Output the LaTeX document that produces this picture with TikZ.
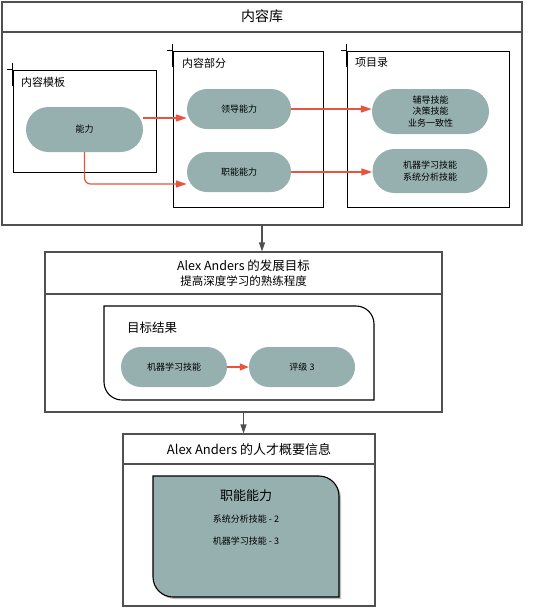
\documentclass[tikz,border=0pt]{standalone}
\usepackage{fontspec}
\setmainfont{Noto Sans CJK SC}
\usetikzlibrary{arrows.meta}
\definecolor{pillfill}{RGB}{149,176,175}
\definecolor{redarr}{RGB}{232,85,63}
\definecolor{boxline}{RGB}{80,80,80}
\begin{document}
\begin{tikzpicture}[x=1pt,y=-1pt,
  bigbox/.style={draw=boxline, line width=1.1pt, inner sep=0pt, anchor=center},
  framebox/.style={draw=black, line width=1pt, inner sep=0pt, anchor=center},
  pill/.style={fill=pillfill, draw=none, rounded corners=#1, inner sep=0pt, align=center,
     font=\fontsize{9}{11.5}\selectfont},
  redline/.style={draw=redarr, line width=1.2pt, -{Triangle[length=11pt,width=7pt]}},
  grayline/.style={draw=boxline, line width=1.1pt, -{Triangle[length=9pt,width=6pt]}},
  framelabel/.style={anchor=west, inner sep=0pt, font=\fontsize{11}{13}\selectfont},
  tick/.style={draw=black, line width=1.1pt},
  txt/.style={inner sep=0pt, align=center}
]
\useasboundingbox (0,0) rectangle (535,608);
\fill[white] (0,0) rectangle (535,608);

% ---------- outer box ----------
\node[bigbox, minimum width=520pt, minimum height=223pt] (lib) at (262,113.5) {};
\draw[boxline, line width=1.1pt] (lib.west |- 0,32) -- (lib.east |- 0,32);
\node[txt, font=\fontsize{14}{16}\selectfont] (libtitle) at (262,16.5) {内容库};

% frames
\node[framebox, minimum width=143pt, minimum height=102pt] (tpl) at (84.5,121) {};
\draw[tick] ([xshift=-6pt]tpl.north west) -- (tpl.north west);
\draw[tick] ([yshift=7pt]tpl.north west) -- ([yshift=-16pt]tpl.north west);
\node[framelabel] (tpllabel) at (21,82) {内容模板};

\node[framebox, minimum width=150pt, minimum height=156pt] (sec) at (248,129) {};
\draw[tick] ([xshift=-6pt]sec.north west) -- (sec.north west);
\draw[tick] ([yshift=7pt]sec.north west) -- ([yshift=-16pt]sec.north west);
\node[framelabel] (seclabel) at (182,63) {内容部分};

\node[framebox, minimum width=162pt, minimum height=156pt] (cat) at (428,129) {};
\draw[tick] ([xshift=-6pt]cat.north west) -- (cat.north west);
\draw[tick] ([yshift=7pt]cat.north west) -- ([yshift=-16pt]cat.north west);
\node[framelabel] (catlabel) at (355,63) {项目录};

% pills
\node[pill=22.5pt, minimum width=117pt, minimum height=45pt] (cap) at (84.5,129.5) {能力};
\node[pill=20pt, minimum width=104pt, minimum height=40pt] (lead) at (239,109) {领导能力};
\node[pill=20pt, minimum width=104pt, minimum height=40pt] (func) at (239,172) {职能能力};
\node[pill=22.5pt, minimum width=117pt, minimum height=45pt] (list1) at (430.5,111.5) {辅导技能\\决策技能\\业务一致性};
\node[pill=22pt, minimum width=115pt, minimum height=44pt] (list2) at (430,171) {机器学习技能\\系统分析技能};

\draw[redline] ([yshift=11.5pt]cap.east) -- ([yshift=-9pt]lead.west);
\draw[redline, rounded corners=6pt] (cap.south) |- ([yshift=-12pt]func.west);
\draw[redline] (lead.east) -- (lead.east -| list1.west);
\draw[redline] (func.east) -- (func.east -| list2.west);

% ---------- goal box ----------
\node[bigbox, minimum width=397pt, minimum height=160pt] (goal) at (243.5,332) {};
\draw[boxline, line width=1.1pt] (goal.west |- 0,294) -- (goal.east |- 0,294);
\node[txt, font=\fontsize{12.5}{14}\selectfont] (goaltitle) at (243.5,266) {Alex Anders 的发展目标};
\node[txt, font=\fontsize{11.5}{14}\selectfont] (goalsub) at (243.5,281) {提高深度学习的熟练程度};

\draw[black, line width=1.1pt] (104,306) -- (356,306)
  .. controls (365.94,306) and (374,314.06) .. (374,324)
  -- (374,400) -- (122,400)
  .. controls (112.06,400) and (104,391.94) .. (104,382) -- cycle;
\node[anchor=west, inner sep=0pt, font=\fontsize{12.5}{14}\selectfont] (reslabel) at (127,327.5) {目标结果};

\node[pill=20pt, minimum width=106pt, minimum height=40pt] (mls) at (174,367) {机器学习技能};
\node[pill=20pt, minimum width=106pt, minimum height=40pt] (rating) at (302,367) {评级 3};
\draw[redarr, line width=1.2pt, -{Triangle[length=9pt,width=7pt]}] (mls.east) -- (rating.west);

% ---------- profile box ----------
\node[bigbox, minimum width=252pt, minimum height=172pt] (prof) at (249,520) {};
\draw[boxline, line width=1.1pt] (prof.west |- 0,464) -- (prof.east |- 0,464);
\node[txt, font=\fontsize{13}{15}\selectfont] (proftitle) at (249,449.5) {Alex Anders 的人才概要信息};

\fill[black!25] (155,478) -- (321,478)
  .. controls (332,478) and (341,487) .. (341,498)
  -- (341,599) -- (175,599)
  .. controls (164,599) and (155,590) .. (155,579) -- cycle;
\draw[black, line width=1.1pt, fill=pillfill] (153,476) -- (319,476)
  .. controls (330,476) and (339,485) .. (339,496)
  -- (339,597) -- (173,597)
  .. controls (162,597) and (153,588) .. (153,577) -- cycle;
\node[txt, font=\fontsize{13}{15}\selectfont] (comp) at (246,495.5) {职能能力};
\node[txt, font=\fontsize{9}{11}\selectfont] (sk1) at (246,519.5) {系统分析技能 - 2};
\node[txt, font=\fontsize{9}{11}\selectfont] (sk2) at (246,541.5) {机器学习技能 - 3};

% gray connectors
\draw[grayline] (lib.south) -- (lib.south |- goal.north);
\draw[grayline] (goal.south) -- (goal.south |- prof.north);
\end{tikzpicture}
\end{document}
